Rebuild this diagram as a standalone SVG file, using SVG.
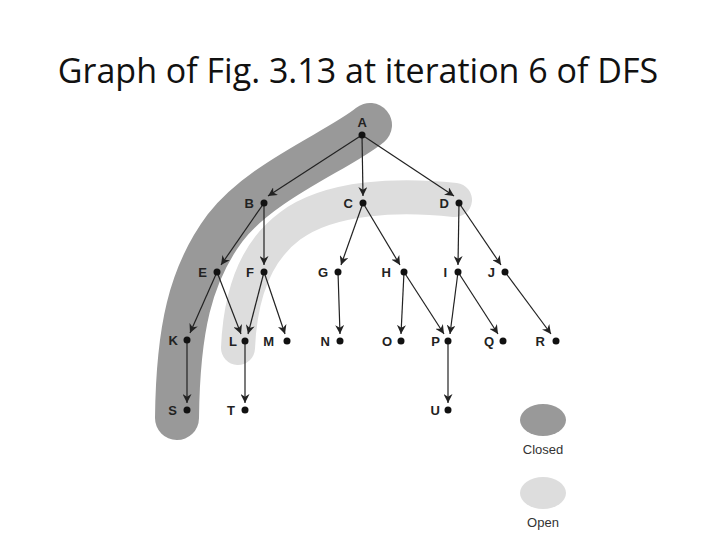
<svg xmlns="http://www.w3.org/2000/svg" width="720" height="540" viewBox="0 0 720 540">
<style>
.t{font-family:"Liberation Sans",Arial,sans-serif;font-weight:bold;font-size:13px;fill:#222;text-anchor:end}
.e{stroke:#222;stroke-width:1.2;fill:none;marker-end:url(#ah)}
.d{fill:#111}
</style>
<defs><marker id="ah" viewBox="0 0 10 10" refX="10" refY="5" markerWidth="9" markerHeight="9" orient="auto" markerUnits="userSpaceOnUse"><path d="M0,0 L10,5 L0,10 L3,5 Z" fill="#222"/></marker></defs>
<rect width="720" height="540" fill="#fff"/>
<text x="358" y="83" font-family="Open Sans,Liberation Sans,sans-serif" font-size="34" text-anchor="middle" fill="#111">Graph of Fig. 3.13 at iteration 6 of DFS</text>
<g id="closed-region"><path d="M370,125 C340,150 262,180 225,228 C190,275 178,330 177,418" stroke="#999" stroke-width="44" stroke-linecap="round" fill="none"/></g>
<g id="open-region"><path d="M455,200 C400,194 330,196 290,226 C252,254 240,300 238,348" stroke="#ddd" stroke-width="34" stroke-linecap="round" fill="none"/></g>
<g id="connectors">
<line class="e" x1="362" y1="135" x2="268" y2="196"/>
<line class="e" x1="362" y1="135" x2="363" y2="196"/>
<line class="e" x1="362" y1="135" x2="454" y2="196"/>
<line class="e" x1="264" y1="203" x2="221" y2="265"/>
<line class="e" x1="264" y1="203" x2="264" y2="265"/>
<line class="e" x1="363" y1="203" x2="341" y2="265"/>
<line class="e" x1="363" y1="203" x2="400" y2="265"/>
<line class="e" x1="459" y1="203" x2="458" y2="265"/>
<line class="e" x1="459" y1="203" x2="501" y2="265"/>
<line class="e" x1="217" y1="272" x2="190" y2="333"/>
<line class="e" x1="217" y1="272" x2="241" y2="334"/>
<line class="e" x1="264" y1="272" x2="248" y2="334"/>
<line class="e" x1="264" y1="272" x2="285" y2="334"/>
<line class="e" x1="338" y1="272" x2="340" y2="334"/>
<line class="e" x1="404" y1="272" x2="401" y2="334"/>
<line class="e" x1="404" y1="272" x2="444" y2="334"/>
<line class="e" x1="458" y1="272" x2="450" y2="334"/>
<line class="e" x1="458" y1="272" x2="498" y2="334"/>
<line class="e" x1="505" y1="272" x2="551" y2="334"/>
<line class="e" x1="187" y1="340" x2="187" y2="403"/>
<line class="e" x1="245" y1="341" x2="245" y2="403"/>
<line class="e" x1="448" y1="341" x2="448" y2="403"/>
</g>
<g id="A"><circle class="d" cx="362" cy="135" r="3.5"/><text class="t" x="367" y="127">A</text></g>
<g id="B"><circle class="d" cx="264" cy="203" r="3.5"/><text class="t" x="254" y="208">B</text></g>
<g id="C"><circle class="d" cx="363" cy="203" r="3.5"/><text class="t" x="353" y="208">C</text></g>
<g id="D"><circle class="d" cx="459" cy="203" r="3.5"/><text class="t" x="449" y="208">D</text></g>
<g id="E"><circle class="d" cx="217" cy="272" r="3.5"/><text class="t" x="207" y="277">E</text></g>
<g id="F"><circle class="d" cx="264" cy="272" r="3.5"/><text class="t" x="254" y="277">F</text></g>
<g id="G"><circle class="d" cx="338" cy="272" r="3.5"/><text class="t" x="328" y="277">G</text></g>
<g id="H"><circle class="d" cx="404" cy="272" r="3.5"/><text class="t" x="391" y="277">H</text></g>
<g id="I"><circle class="d" cx="458" cy="272" r="3.5"/><text class="t" x="447" y="277">I</text></g>
<g id="J"><circle class="d" cx="505" cy="272" r="3.5"/><text class="t" x="495" y="277">J</text></g>
<g id="K"><circle class="d" cx="187" cy="340" r="3.5"/><text class="t" x="178" y="345">K</text></g>
<g id="L"><circle class="d" cx="245" cy="341" r="3.5"/><text class="t" x="237" y="346">L</text></g>
<g id="M"><circle class="d" cx="287" cy="341" r="3.5"/><text class="t" x="274" y="346">M</text></g>
<g id="N"><circle class="d" cx="340" cy="341" r="3.5"/><text class="t" x="330" y="346">N</text></g>
<g id="O"><circle class="d" cx="401" cy="341" r="3.5"/><text class="t" x="392" y="346">O</text></g>
<g id="P"><circle class="d" cx="448" cy="341" r="3.5"/><text class="t" x="440" y="346">P</text></g>
<g id="Q"><circle class="d" cx="503" cy="341" r="3.5"/><text class="t" x="494" y="346">Q</text></g>
<g id="R"><circle class="d" cx="556" cy="341" r="3.5"/><text class="t" x="545" y="346">R</text></g>
<g id="S"><circle class="d" cx="187" cy="410" r="3.5"/><text class="t" x="177" y="415">S</text></g>
<g id="T"><circle class="d" cx="245" cy="410" r="3.5"/><text class="t" x="235" y="415">T</text></g>
<g id="U"><circle class="d" cx="448" cy="410" r="3.5"/><text class="t" x="440" y="415">U</text></g>
<g id="legend">
<ellipse cx="543" cy="420" rx="23" ry="16" fill="#999"/>
<text x="543" y="454" font-family="Liberation Sans,Arial,sans-serif" font-size="13" text-anchor="middle" fill="#333">Closed</text>
<ellipse cx="543" cy="493" rx="23" ry="16" fill="#ddd"/>
<text x="543" y="527" font-family="Liberation Sans,Arial,sans-serif" font-size="13" text-anchor="middle" fill="#333">Open</text>
</g>
</svg>
